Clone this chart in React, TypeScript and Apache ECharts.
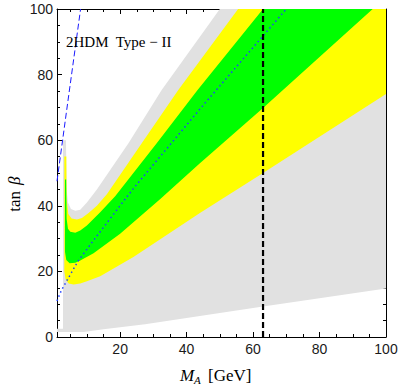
import React, { useEffect, useRef } from "react";
import * as echarts from "echarts";

// Tick values
const xMajorTicks = [20, 40, 60, 80, 100];
const xMinorTicks = [5, 10, 15, 25, 30, 35, 45, 50, 55, 65, 70, 75, 85, 90, 95];

// Region boundaries [M_A, tan beta]
const grayLower = [[2.8, 60], [2.8, 2.5], [1, 2.5], [1, 1.5], [9, 1.5], [15, 2.4], [27.5, 3.9], [44, 6.4], [63, 9.3], [100, 14.8]];
const grayUpper = [[3.7, 60], [3.9, 45], [4.3, 41], [5.2, 39], [6.5, 38.5], [8, 38.8], [10, 41], [13, 45], [22.5, 59.1], [32.5, 75.3], [50, 100]];
const yellowLower = [[3.2, 55], [3.2, 20], [3.6, 17.5], [4.5, 16.3], [6, 16], [8, 16.3], [10, 17], [14, 18.5], [24, 24.4], [44, 37.8], [63, 50], [100, 74.1]];
const yellowUpper = [[3.8, 55], [3.9, 42], [4.4, 37.5], [5.4, 36.1], [7, 35.8], [8.5, 36.3], [10.5, 37.8], [13, 40], [16, 43.5], [26.5, 59.1], [37.5, 75.3], [55.5, 100]];
const greenLower = [[3.4, 48], [3.4, 26], [3.8, 23.5], [4.8, 22.5], [6.5, 22.6], [8, 23.3], [12, 25.5], [20, 31.5], [32, 42], [44, 53], [63, 69.8], [96, 100]];
const greenUpper = [[3.75, 48], [3.9, 36], [4.3, 33], [5, 32.1], [6.5, 31.8], [8, 32.5], [10, 34], [14, 38], [18.5, 42.9], [31, 59.1], [43.3, 75.3], [63, 100]];
const topRightCorner = [[100, 100]];

// Curves
const dottedBlue = [[1, 11], [2.3, 14.2], [7.3, 23.1], [11.8, 29.2], [22, 42.7], [24.9, 46.4], [45.1, 70.8], [70, 100]];
const dashedBlue = [[1, 47.5], [4.5, 73.5], [8.1, 100]];
const massLine = [[63, 0], [63, 100]];

function band(lower: number[][], extra: number[][], upper: number[][]) {
  return [...lower, ...extra, ...upper.slice().reverse()];
}

function polygonSeries(name: string, pts: number[][], color: string, z: number) {
  return {
    type: "custom",
    name,
    coordinateSystem: "cartesian2d",
    xAxisIndex: 0,
    yAxisIndex: 0,
    data: pts,
    encode: { x: 0, y: 1 },
    clip: true,
    silent: true,
    z,
    renderItem: (params: any, api: any) => {
      if (params.dataIndex !== 0) return null;
      return {
        type: "polygon",
        shape: { points: pts.map((p) => api.coord(p)) },
        style: { fill: color },
      };
    },
  };
}

const tickFont = '"Liberation Sans", Arial, sans-serif';
const serif = '"Liberation Serif", "Times New Roman", serif';

function xAxisDef(position: string, ticks: number[], len: number, line: boolean, labels: boolean) {
  return {
    type: "value",
    position,
    min: 1,
    max: 100,
    splitLine: { show: false },
    axisLine: { show: line, lineStyle: { color: "#000", width: 1 } },
    axisTick: { show: true, inside: true, length: len, customValues: ticks, lineStyle: { color: "#000", width: 1 } },
    axisLabel: labels
      ? { show: true, customValues: ticks, fontSize: 14, color: "#1a1a1a", fontFamily: tickFont, margin: 5 }
      : { show: false },
  };
}

function yAxisDef(position: string, labels: boolean) {
  return {
    type: "value",
    position,
    min: 0,
    max: 100,
    interval: 20,
    splitLine: { show: false },
    axisLine: { show: true, lineStyle: { color: "#000", width: 1 } },
    axisTick: { show: true, inside: true, length: 5, lineStyle: { color: "#000", width: 1 } },
    minorTick: { show: true, splitNumber: 4, length: 3, lineStyle: { color: "#000", width: 1 } },
    axisLabel: labels
      ? { show: true, fontSize: 14, color: "#1a1a1a", fontFamily: tickFont, margin: 4 }
      : { show: false },
  };
}

function label(text: string, x: number, y: number, size: number, italic: boolean, align = "left", rotation = 0) {
  return {
    type: "text",
    x,
    y,
    rotation,
    z: 10,
    style: {
      text,
      fontFamily: serif,
      fontSize: size,
      fontStyle: italic ? "italic" : "normal",
      fill: "#000",
      align,
      verticalAlign: "middle",
      textAlign: align,
      textVerticalAlign: "middle",
    },
  };
}

export default function App() {
  const ref = useRef<HTMLDivElement>(null);
  useEffect(() => {
    document.body.style.margin = "0";
    if (!ref.current) return;
    const chart = echarts.init(ref.current, null, { renderer: "svg" });
    chart.setOption({
      animation: false,
      backgroundColor: "#fff",
      grid: { left: 57, right: 14, top: 9, bottom: 48, outerBoundsMode: "none" },
      xAxis: [
        xAxisDef("bottom", xMajorTicks, 5, true, true),
        xAxisDef("bottom", xMinorTicks, 3, false, false),
        xAxisDef("top", xMajorTicks, 5, true, false),
        xAxisDef("top", xMinorTicks, 3, false, false),
      ],
      yAxis: [yAxisDef("left", true), yAxisDef("right", false)],
      series: [
        polygonSeries("gray", band(grayLower, topRightCorner, grayUpper), "#e1e1e1", 1),
        polygonSeries("yellow", band(yellowLower, topRightCorner, yellowUpper), "#ffff00", 2),
        polygonSeries("green", band(greenLower, [], greenUpper), "#00ff00", 3),
        {
          type: "line",
          data: dottedBlue,
          symbol: "none",
          silent: true,
          z: 5,
          lineStyle: { color: "#2040ff", width: 1.5, type: [1.5, 3] },
        },
        {
          type: "line",
          data: dashedBlue,
          symbol: "none",
          silent: true,
          z: 5,
          lineStyle: { color: "#1a1aff", width: 1, type: [6, 3] },
        },
        {
          type: "line",
          data: massLine,
          symbol: "none",
          silent: true,
          z: 6,
          lineStyle: { color: "#000", width: 2.2, type: [6, 3] },
        },
      ],
      graphic: [
        label("2HDM  Type \u2212 II", 66, 42, 15, false),
        label("M", 180, 375, 17, true),
        label("A", 194, 380, 11, true),
        label("[GeV]", 208, 375, 17, false),
        {
          type: "group",
          x: 14,
          y: 185,
          rotation: Math.PI / 2,
          children: [label("tan", -6, 0, 17, false, "right"), label("\u03b2", 0, 0, 17, true, "left")],
        },
      ],
    });
    return () => chart.dispose();
  }, []);
  return <div ref={ref} style={{ width: 400, height: 385 }} />;
}
